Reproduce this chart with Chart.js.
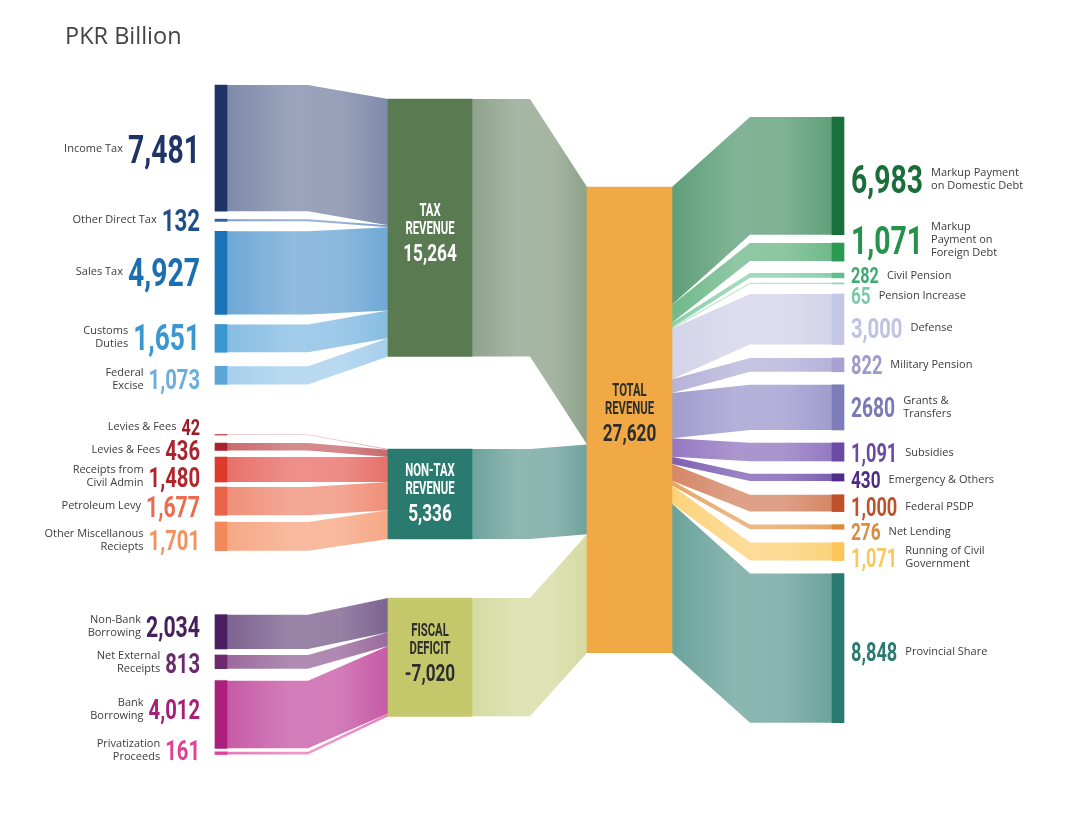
<!DOCTYPE html>
<html>
<head>
<meta charset="utf-8">
<title>PKR Billion</title>
<script src="https://cdn.jsdelivr.net/npm/chart.js@4.4.1/dist/chart.umd.min.js"></script>
<style>
  html, body { margin: 0; padding: 0; background: #fff; }
  #wrap { width: 1080px; height: 833px; position: relative; }
</style>
</head>
<body>
<div id="wrap"><canvas id="sankey"></canvas></div>
<script>
// 資料 (PKR Billion)
const sourceNames = ['Income Tax', 'Other Direct Tax', 'Sales Tax', 'Customs\nDuties', 'Federal\nExcise',
    'Levies & Fees', 'Levies & Fees', 'Receipts from\nCivil Admin', 'Petroleum Levy', 'Other Miscellanous\nReciepts',
    'Non-Bank\nBorrowing', 'Net External\nReceipts', 'Bank\nBorrowing', 'Privatization\nProceeds'];
const sourceValues = [7481, 132, 4927, 1651, 1073, 42, 436, 1480, 1677, 1701, 2034, 813, 4012, 161];
const sourceGroup = [0, 0, 0, 0, 0, 1, 1, 1, 1, 1, 2, 2, 2, 2];

const groupNames = ['TAX\nREVENUE', 'NON-TAX\nREVENUE', 'FISCAL\nDEFICIT'];
const groupValues = [15264, 5336, -7020];

const totalName = 'TOTAL\nREVENUE';
const totalValue = 27620;

const spendNames = ['Markup Payment\non Domestic Debt', 'Markup\nPayment on\nForeign Debt', 'Civil Pension',
    'Pension Increase', 'Defense', 'Military Pension', 'Grants &\nTransfers', 'Subsidies', 'Emergency & Others',
    'Federal PSDP', 'Net Lending', 'Running of Civil\nGovernment', 'Provincial Share'];
const spendValues = [6983, 1071, 282, 65, 3000, 822, 2680, 1091, 430, 1000, 276, 1071, 8848];
const spendValueText = ['6,983', '1,071', '282', '65', '3,000', '822', '2680', '1,091', '430', '1,000', '276', '1,071', '8,848'];

// 版面
const W = 1080, H = 833, Y_MAX = 49400;
const PX = H / Y_MAX;
const COL_X = { src: 221, mid: 430, tot: 629.5, out: 838 };
const COL_W = { src: 12, mid: 84, tot: 85, out: 12 };
const BEND_X = { src: 308, mid: 530, out: 750 };
const SRC_TOP = 85, SRC_GAPS = [8, 10, 10, 14, 50, 8, 6.6, 5, 6.7, 64, 6, 12, 3.5];
const MID_TOP = 99, MID_GAPS = [92.6, 59];
const TOT_TOP = 187;
const OUT_TOP = 117, OUT_GAPS = [8.3, 12, 5, 10, 13.4, 13, 12.8, 12.6, 13.7, 13, 13.3, 12.9];

const SRC_NUM_X = 200, OUT_NUM_X = 851;
const SRC_LABEL_NUDGE = [1, 0, -1, -1, 4, -8, 3, 7, 5, 4, -5, 1, -5, -3];
const OUT_LABEL_NUDGE = [3, -12, 0, 12, 9, 0, 0, 1, 2, 4, 5, 6, 4];
const SRC_NUM_CAP = [28, 22, 28, 26, 20, 16, 20, 20, 21, 20, 21, 20, 20, 20];
const OUT_NUM_CAP = [28, 28, 16, 17, 20, 18, 19, 18, 17, 18, 17, 18, 18];
const MID_TEXT_NUDGE = [0, -6, -10];
const TOT_TEXT_NUDGE = -12;
const NUM_SQUEEZE = 0.72, WORD_SQUEEZE = 0.62;

// 顏色
const sourceBarColors = ['#1f3464', '#2b5f9e', '#1a73b7', '#3a96cf', '#5aa6d8', '#c25050', '#a8232b', '#dd3a2c',
    '#e9634a', '#f2895a', '#4a1f60', '#6e2a70', '#ad1f7d', '#e0409a'];
const sourceFlowColors = ['#7f8aa9', '#7f9ccc', '#6fa8d6', '#86bde3', '#a6cfec', '#d79a9a', '#c86a6e', '#e8706a',
    '#f08f78', '#f6a784', '#7d6390', '#9a6a9c', '#c75aa6', '#e67ab8'];
const sourceTextColors = ['#1f3464', '#1e4f8c', '#1b6fb0', '#3b97cf', '#6aaede', '#9a1b24', '#a82530', '#b0262c',
    '#ec6a4e', '#f3925f', '#45205c', '#6b2a6e', '#a62078', '#e0409a'];
const groupColors = ['#5a7a52', '#2a7a70', '#c4c86a'];
const groupFlowColors = ['#8ea38b', '#6fa39c', '#d6dba2'];
const groupTextColors = ['#ffffff', '#ffffff', '#2d2d2d'];
const totalColor = '#f1a945';
const spendBarColors = ['#19703a', '#2a9a50', '#5fbf8e', '#8fd4b4', '#c5c7e6', '#a7a2d0', '#7f7cba', '#6a4aa5',
    '#4e2c8a', '#c0502a', '#de8a3a', '#fbc65a', '#2a7a70'];
const spendFlowColors = ['#5e9f78', '#6fb98a', '#8acfaa', '#b0e0c8', '#d3d3ea', '#b6b2d9', '#9f9cce', '#9479c2',
    '#7d5fb3', '#d48766', '#e6a562', '#fcd27a', '#6aa39b'];
const spendTextColors = ['#1a6e3a', '#25914a', '#3eaa72', '#7cc9a8', '#c0c2e3', '#9e99cb', '#7b78b6', '#6a48a3',
    '#4e2c86', '#bf5129', '#dc8a3b', '#fbc75d', '#2a7a70'];

const fmt = v => v.toLocaleString('en-US');

// 依序堆疊節點
function stack(top, gaps, values) {
    const spans = [];
    let pos = top / PX;
    values.forEach((v, i) => {
        const end = pos + Math.abs(v);
        spans.push([pos, end]);
        pos = end + (gaps[i] || 0) / PX;
    });
    return spans;
}

const srcSpans = stack(SRC_TOP, SRC_GAPS, sourceValues);
const midSpans = stack(MID_TOP, MID_GAPS, groupValues);
const totSpans = stack(TOT_TOP, [], [totalValue]);
const outSpans = stack(OUT_TOP, OUT_GAPS, spendValues);

function shade(hex, t) {
    const n = parseInt(hex.slice(1), 16);
    const c = [(n >> 16) & 255, (n >> 8) & 255, n & 255];
    const m = c.map(v => Math.round(t >= 0 ? v + (255 - v) * t : v * (1 + t)));
    return `rgb(${m[0]},${m[1]},${m[2]})`;
}

function drawFlow(ctx, x0, a0, a1, xb, x1, b0, b1, flatFirst, color) {
    const g = ctx.createLinearGradient(x0, 0, x1, 0);
    g.addColorStop(0, color);
    g.addColorStop(0.4, shade(color, 0.22));
    g.addColorStop(0.7, shade(color, 0.2));
    g.addColorStop(1, color);
    ctx.beginPath();
    if (flatFirst) {
        ctx.moveTo(x0, a0); ctx.lineTo(xb, a0); ctx.lineTo(x1, b0);
        ctx.lineTo(x1, b1); ctx.lineTo(xb, a1); ctx.lineTo(x0, a1);
    } else {
        ctx.moveTo(x0, a0); ctx.lineTo(xb, b0); ctx.lineTo(x1, b0);
        ctx.lineTo(x1, b1); ctx.lineTo(xb, b1); ctx.lineTo(x0, a1);
    }
    ctx.closePath();
    ctx.fillStyle = g;
    ctx.fill();
}

function drawNumber(ctx, text, x, cy, cap, align, color, squeeze) {
    const size = cap / 0.711;
    ctx.save();
    ctx.font = `700 ${size}px Roboto`;
    ctx.fillStyle = color;
    ctx.textAlign = align;
    ctx.textBaseline = 'alphabetic';
    ctx.translate(x, cy + cap / 2);
    ctx.scale(squeeze || NUM_SQUEEZE, 1);
    ctx.fillText(text, 0, 0);
    const w = ctx.measureText(text).width * (squeeze || NUM_SQUEEZE);
    ctx.restore();
    return w;
}

function drawLines(ctx, text, x, cy, align) {
    const lines = text.split('\n');
    ctx.save();
    ctx.font = '11px "Open Sans"';
    ctx.fillStyle = '#3c3c3c';
    ctx.textAlign = align;
    ctx.textBaseline = 'middle';
    lines.forEach((l, i) => ctx.fillText(l, x, cy + (i - (lines.length - 1) / 2) * 13));
    ctx.restore();
}

function drawBoxText(ctx, words, value, x, cy, color) {
    const lines = words.split('\n');
    drawNumber(ctx, lines[0], x, cy - 18, 13, 'center', color, WORD_SQUEEZE);
    drawNumber(ctx, lines[1], x, cy, 13, 'center', color, WORD_SQUEEZE);
    drawNumber(ctx, fmt(value), x, cy + 25, 17, 'center', color);
}

// 流向繪製
const sankeyFlows = {
    id: 'sankeyFlows',
    beforeDatasetsDraw(chart) {
        const { ctx, scales: { x, y } } = chart;
        const py = v => y.getPixelForValue(v);
        const metas = [0, 1, 2, 3].map(i => chart.getDatasetMeta(i).data);
        const [srcEl, midEl, totEl, outEl] = metas;
        const rightOf = el => el.x + el.width / 2;
        const leftOf = el => el.x - el.width / 2;

        ctx.save();
        const fill = midSpans.map(s => s[0]);
        sourceValues.forEach((v, i) => {
            const g = sourceGroup[i];
            const b0 = fill[g], b1 = b0 + v;
            fill[g] = b1;
            drawFlow(ctx, rightOf(srcEl[i]), py(srcSpans[i][0]), py(srcSpans[i][1]), x.getPixelForValue(BEND_X.src),
                leftOf(midEl[g]), py(b0), py(b1), true, sourceFlowColors[i]);
        });

        let t = totSpans[0][0];
        groupValues.forEach((v, g) => {
            const b0 = t, b1 = t + Math.abs(v);
            t = b1;
            drawFlow(ctx, rightOf(midEl[g]), py(midSpans[g][0]), py(midSpans[g][1]), x.getPixelForValue(BEND_X.mid),
                leftOf(totEl[0]), py(b0), py(b1), true, groupFlowColors[g]);
        });

        let s = totSpans[0][0];
        spendValues.forEach((v, i) => {
            const a0 = s, a1 = s + v;
            s = a1;
            drawFlow(ctx, rightOf(totEl[0]), py(a0), py(a1), x.getPixelForValue(BEND_X.out),
                leftOf(outEl[i]), py(outSpans[i][0]), py(outSpans[i][1]), false, spendFlowColors[i]);
        });
        ctx.restore();
    },
    afterDatasetsDraw(chart) {
        const { ctx, scales: { x, y } } = chart;
        const py = v => y.getPixelForValue(v);
        const mid = span => (py(span[0]) + py(span[1])) / 2;

        ctx.save();
        ctx.font = '23.5px "Open Sans"';
        ctx.fillStyle = '#444';
        ctx.textBaseline = 'middle';
        ctx.fillText('PKR Billion', 65, 37);
        ctx.restore();

        sourceNames.forEach((name, i) => {
            const cy = mid(srcSpans[i]) + SRC_LABEL_NUDGE[i];
            const nx = x.getPixelForValue(SRC_NUM_X);
            const w = drawNumber(ctx, fmt(sourceValues[i]), nx, cy, SRC_NUM_CAP[i], 'right', sourceTextColors[i]);
            drawLines(ctx, name, nx - w - 5, cy, 'right');
        });

        spendNames.forEach((name, i) => {
            const cy = mid(outSpans[i]) + OUT_LABEL_NUDGE[i];
            const nx = x.getPixelForValue(OUT_NUM_X);
            const w = drawNumber(ctx, spendValueText[i], nx, cy, OUT_NUM_CAP[i], 'left', spendTextColors[i]);
            drawLines(ctx, name, nx + w + 8, cy, 'left');
        });

        groupNames.forEach((name, g) => {
            drawBoxText(ctx, name, groupValues[g], x.getPixelForValue(COL_X.mid), mid(midSpans[g]) + MID_TEXT_NUDGE[g], groupTextColors[g]);
        });
        drawBoxText(ctx, totalName, totalValue, x.getPixelForValue(COL_X.tot), mid(totSpans[0]) + TOT_TEXT_NUDGE, '#2d2d2d');
    }
};

const column = (key, spans, colors) => ({
    data: spans.map(s => ({ x: COL_X[key], y: s })),
    backgroundColor: colors,
    barThickness: COL_W[key],
    maxBarThickness: COL_W[key],
    grouped: false,
    borderWidth: 0
});

new Chart(document.getElementById('sankey'), {
    type: 'bar',
    data: {
        datasets: [
            column('src', srcSpans, sourceBarColors),
            column('mid', midSpans, groupColors),
            column('tot', totSpans, [totalColor]),
            column('out', outSpans, spendBarColors)
        ]
    },
    options: {
        responsive: true,
        maintainAspectRatio: false,
        animation: false,
        layout: { padding: 0 },
        plugins: { legend: { display: false }, tooltip: { enabled: false } },
        scales: {
            x: { type: 'linear', min: 0, max: W, offset: false, display: false, ticks: { stepSize: W }, grid: { offset: false } },
            y: { type: 'linear', min: 0, max: Y_MAX, reverse: true, display: false }
        }
    },
    plugins: [sankeyFlows]
});
</script>
</body>
</html>
